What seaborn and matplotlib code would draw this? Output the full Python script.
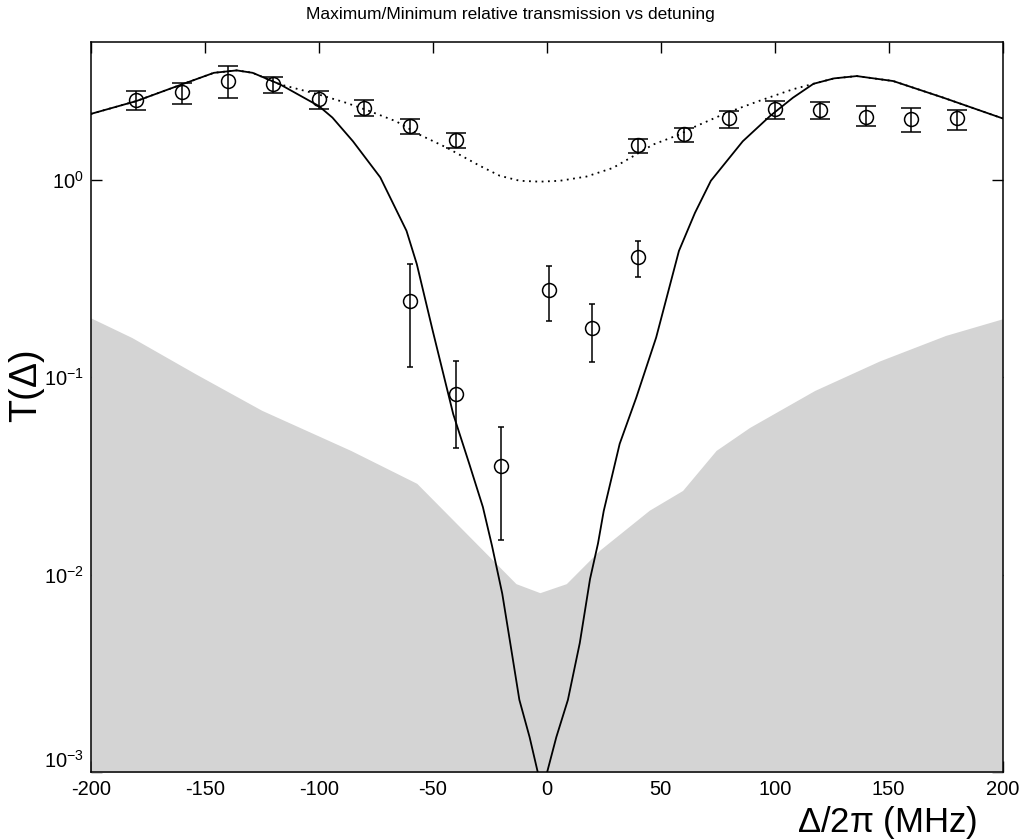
import numpy as np
import pandas as pd
import matplotlib
matplotlib.use("Agg")
import matplotlib.pyplot as plt
import seaborn as sns
from matplotlib.ticker import FixedLocator, NullLocator, LogFormatterSciNotation

# ---------------- data ----------------
# measured points (upper series: maximum transmission)
up_x = [-180, -160, -140, -120, -100, -80, -60, -40, 40, 60, 80, 100, 120, 140, 160, 180]
up_y = [2.53, 2.79, 3.19, 3.07, 2.56, 2.32, 1.88, 1.59, 1.50, 1.70, 2.05, 2.30, 2.26, 2.09, 2.03, 2.05]
up_hi = [2.82, 3.10, 3.77, 3.32, 2.82, 2.53, 2.03, 1.72, 1.62, 1.84, 2.23, 2.51, 2.48, 2.37, 2.32, 2.26]
up_lo = [2.26, 2.42, 2.61, 2.77, 2.28, 2.12, 1.70, 1.45, 1.37, 1.56, 1.84, 2.03, 2.03, 1.88, 1.75, 1.79]

# measured points (lower series: minimum transmission)
lo_x = [-60, -40, -20, 1, 20, 40]
lo_y = [0.244, 0.0824, 0.0356, 0.277, 0.177, 0.408]
lo_hi = [0.377, 0.121, 0.0563, 0.367, 0.235, 0.488]
lo_lo = [0.113, 0.044, 0.0149, 0.192, 0.119, 0.324]

# theory curve (solid)
th_x = [-200, -180, -160, -146, -136, -129, -117, -100, -94, -85, -73, -61.5, -57, -50,
        -41, -34, -28, -24, -19.5, -16, -12, -7.5, -2, 4.2, 9.3, 14.5, 19, 22.5, 25,
        32, 39.3, 48, 58, 65, 72, 86, 98, 108, 117, 126, 136, 152, 174, 200]
th_y = [2.16, 2.51, 3.05, 3.49, 3.59, 3.49, 3.05, 2.37, 2.07, 1.57, 1.03, 0.552, 0.375, 0.172,
        0.065, 0.0365, 0.022, 0.0140, 0.0080, 0.0045, 0.00232, 0.0015, 0.0008, 0.0015, 0.00232,
        0.0045, 0.0095, 0.0144, 0.021, 0.046, 0.079, 0.159, 0.437, 0.68, 0.99, 1.57, 2.11, 2.61,
        3.07, 3.27, 3.36, 3.17, 2.61, 2.05]

# dotted curve
dt_x = [-200, -180, -160, -146, -136, -129, -117, -100, -88, -77.6, -66, -56, -44, -29.4,
        -20.6, -11.8, -3, 5.7, 17.4, 29, 38, 46.6, 58.3, 64, 79, 93, 108, 117, 126, 136,
        152, 174, 200]
dt_y = [2.16, 2.51, 3.05, 3.49, 3.59, 3.49, 3.05, 2.71, 2.46, 2.23, 1.98, 1.70, 1.46, 1.18,
        1.05, 0.99, 0.98, 0.99, 1.04, 1.15, 1.32, 1.51, 1.70, 1.84, 2.19, 2.51, 2.88, 3.07,
        3.27, 3.36, 3.17, 2.61, 2.05]

# noise floor (shaded region upper boundary)
nf_x = [-200, -182, -154, -125, -86, -57, -28, -13.5, -3, 8.6, 23.2, 45, 59.6, 74.3, 89,
        117.5, 146, 175, 200]
nf_y = [0.200, 0.159, 0.104, 0.068, 0.0426, 0.029, 0.0133, 0.0090, 0.0081, 0.0090, 0.0133,
        0.0212, 0.0267, 0.0426, 0.0557, 0.0857, 0.121, 0.163, 0.198]

x_ticks = [-200, -150, -100, -50, 0, 50, 100, 150, 200]
y_ticks = [1e-3, 1e-2, 1e-1, 1e0]

title = "Maximum/Minimum relative transmission vs detuning"
xlabel = r"$\Delta/2\pi$ (MHz)"
ylabel = r"T($\Delta$)"

# ---------------- style ----------------
sns.set_theme(style="ticks")
plt.rcParams["font.family"] = ["Liberation Sans", "DejaVu Sans"]
plt.rcParams["mathtext.fontset"] = "custom"
plt.rcParams["mathtext.rm"] = "Liberation Sans"
plt.rcParams["mathtext.it"] = "Liberation Sans"
plt.rcParams["axes.unicode_minus"] = False
plt.rcParams["text.color"] = "black"

fig = plt.figure(figsize=(10.2, 8.4), dpi=100)
ax = fig.add_axes([0.089, 0.081, 0.894, 0.869])

ax.set_yscale("log")
ax.set_xlim(-200, 200)
ax.set_ylim(1e-3, 5)

nf = pd.DataFrame({"x": nf_x, "y": nf_y})
ax.fill_between(nf["x"], nf["y"], 1e-4, color="#d4d4d4", lw=0, zorder=1)

th = pd.DataFrame({"x": th_x, "y": th_y})
dt = pd.DataFrame({"x": dt_x, "y": dt_y})
sns.lineplot(data=th, x="x", y="y", ax=ax, color="black", lw=1.3, sort=False, zorder=3)
sns.lineplot(data=dt, x="x", y="y", ax=ax, color="black", lw=1.3, ls=(0, (1, 2.5)), sort=False, zorder=3)

up_y_a = np.array(up_y)
ax.errorbar(up_x, up_y, yerr=[up_y_a - np.array(up_lo), np.array(up_hi) - up_y_a],
            fmt="o", mfc="none", mec="black", ms=10, mew=1.1, ecolor="black",
            elinewidth=1.1, capsize=7, capthick=1.3, zorder=4)
lo_y_a = np.array(lo_y)
ax.errorbar(lo_x, lo_y, yerr=[lo_y_a - np.array(lo_lo), np.array(lo_hi) - lo_y_a],
            fmt="o", mfc="none", mec="black", ms=10, mew=1.1, ecolor="black",
            elinewidth=1.1, capsize=2, capthick=1.3, zorder=4)

ax.xaxis.set_major_locator(FixedLocator(x_ticks))
ax.yaxis.set_major_locator(FixedLocator(y_ticks))
ax.yaxis.set_major_formatter(LogFormatterSciNotation())
ax.yaxis.set_minor_locator(NullLocator())
ax.tick_params(which="both", direction="in", top=True, right=True, length=8, width=1,
               labelsize=14.5, colors="black", labelcolor="black", pad=5)
ax.tick_params(axis="x", pad=6)
for s in ax.spines.values():
    s.set_color("black")
    s.set_linewidth(1.1)
    s.set_zorder(5)

ax.set_xlabel("")
ax.set_ylabel("")
fig.canvas.draw()
ylabs = ax.get_yticklabels()
ylabs[0].set_va("bottom")

fig.text(0.5, 0.983, title, fontsize=12.5, ha="center", va="center", color="black")
fig.text(0.87, 0.021, xlabel, fontsize=25, ha="center", va="center", color="black")
fig.text(0.026, 0.54, ylabel, fontsize=27, ha="center", va="center", rotation=90, color="black")

fig.savefig("out.png", dpi=100)
